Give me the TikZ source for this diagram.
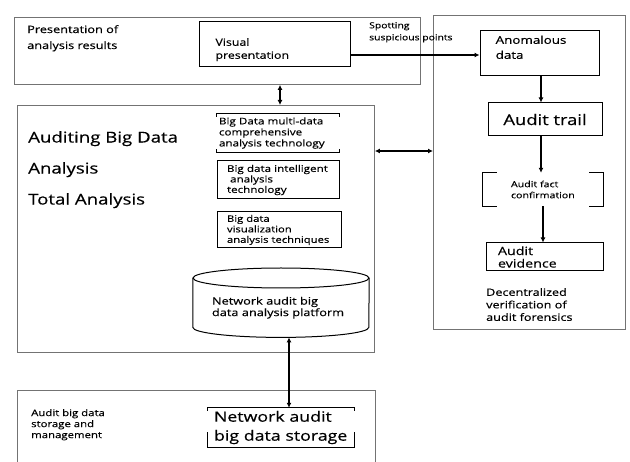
\documentclass[tikz,border=0pt]{standalone}
\usepackage{fontspec}
\setmainfont{Open Sans}[FakeStretch=1.25,FakeBold=0.4]
\usetikzlibrary{arrows.meta,calc}
\newcommand{\fsz}[2]{\fontsize{#1}{#2}\selectfont}
\tikzset{
  panel/.style={draw=black!55, line width=0.9pt, inner sep=0, anchor=north west},
  box/.style={draw, line width=1pt, inner sep=0, align=left},
  plainbox/.style={inner sep=0, align=left},
  txt/.style={inner sep=0, align=left, anchor=north west},
  arr/.style={line width=1.3pt, -{Latex[length=5pt,width=5pt]}},
  darr/.style={line width=1.3pt, {Latex[length=5pt,width=5pt]}-{Latex[length=5pt,width=5pt]}},
  bline/.style={line width=1pt}
}
\begin{document}
\begin{tikzpicture}[x=1pt,y=-1pt]
\useasboundingbox (0,0) rectangle (630,462);
% panels
\node[panel, minimum width=406, minimum height=67] (toppanel) at (14,17) {};
\node[panel, minimum width=192, minimum height=314] (rightpanel) at (433,15) {};
\node[panel, minimum width=357, minimum height=247] (midpanel) at (17,105) {};
\node[panel, minimum width=358, minimum height=90] (botpanel) at (17,390) {};
% top panel content
\node[txt, font=\fsz{10.2}{16}] (ptitle) at (27,25) {Presentation of\\analysis results};
\node[box, minimum width=151, minimum height=45, text width=118, font=\fsz{9.9}{13}, text depth=5pt] (vis) at (274.5,44.5) {Visual\\presentation};
\node[txt, font=\fsz{8.3}{12}] (spot) at (369,22) {Spotting\\suspicious points};
% right panel content
\node[box, minimum width=119, minimum height=45] (anom) at (539.5,53.5) {};
\node[txt, font=\fsz{10.7}{15}] (anomtxt) at ($(anom.north west)+(16,5)$) {Anomalous\\data};
\node[box, minimum width=114, minimum height=33, align=center, font=\fsz{14.7}{17}] (trail) at (545,119.5) {Audit trail};
\node[plainbox, minimum width=120, minimum height=33, text width=64, font=\fsz{8.5}{11}] (fact) at (543,189.5) {Audit fact\\confirmation};
\node[box, minimum width=117, minimum height=28, text width=93, font=\fsz{11.4}{12.5}] (evid) at (544.5,257) {Audit\\evidence};
\node[txt, font=\fsz{10.1}{12.5}] (decent) at (486,288) {Decentralized\\verification of\\audit forensics};
% middle panel content
\node[txt, font=\fsz{14.9}{31}] (mtitle) at (28,131) {Auditing Big Data\\Analysis\\Total Analysis};
\node[plainbox, minimum width=122, minimum height=38, text width=118, font=\fsz{9.3}{11}] (b1) at (278,133) {Big Data multi-data\\comprehensive\\analysis technology};
\node[box, minimum width=122, minimum height=38, text width=102, font=\fsz{9.3}{10.5}] (b2) at (278,180) {Big data intelligent\\\ analysis\\technology};
\node[box, minimum width=124, minimum height=36, text width=104, font=\fsz{9}{10.5}] (b3) at (279,230) {Big data\\visualization\\analysis techniques};
\node[plainbox, minimum width=176, minimum height=59, text width=138, font=\fsz{10.2}{11.5}, anchor=north] (cyl) at (281,278) {Network audit big\\data analysis platform};
% bottom panel content
\node[txt, font=\fsz{9.1}{11}] (btitle) at (31,409) {Audit big data\\storage and\\management};
\node[plainbox, minimum width=146, minimum height=39, text width=134, font=\fsz{14.2}{19}] (store) at (281,427.5) {Network audit\\big data storage};
% bracket outlines
\draw[bline] ($(b1.north west)+(0,3)$) -- (b1.north west) -- (b1.north east) -- ($(b1.north east)+(0,3)$);
\draw[bline] ($(b1.south west)+(0,-3)$) -- (b1.south west) -- (b1.south east) -- ($(b1.south east)+(0,-3)$);
\draw[bline] ($(fact.north west)+(14,0)$) -- (fact.north west) -- (fact.south west) -- ++(14,0);
\draw[bline] ($(fact.north east)+(-14,0)$) -- (fact.north east) -- (fact.south east) -- ++(-14,0);
\draw[bline] ($(store.north west)+(0,3)$) -- (store.north west) -- (store.north east) -- ($(store.north east)+(0,3)$);
\draw[bline] ($(store.south west)+(0,-15)$) -- (store.south west) -- (store.south east) -- ($(store.south east)+(0,-15)$);
% cylinder outline
\draw[line width=1pt] (cyl.north) ellipse [x radius=88, y radius=10];
\draw[line width=1pt] (cyl.north west) -- ($(cyl.south west)+(0,-10)$) arc[start angle=180, end angle=0, x radius=88, y radius=10] -- (cyl.north east);
% connectors
\coordinate (ya) at (0,55);
\coordinate (xv) at (280,0);
\coordinate (yh) at (0,151);
\coordinate (xc) at (289,0);
\draw[arr] (vis.east |- ya) -- (anom.west |- ya);
\draw[darr] (toppanel.south -| xv) -- (midpanel.north -| xv);
\draw[darr] (midpanel.east |- yh) -- (rightpanel.west |- yh);
\draw[arr] (anom.south -| trail.north) ++(-4,0) coordinate (a1) -- (a1 |- trail.north);
\draw[arr] ($(trail.south)+(-4,0)$) coordinate (a2) -- (a2 |- fact.north);
\draw[arr] ($(fact.south)+(0,0)$) -- (fact.south |- evid.north);
\draw[darr] (cyl.south -| xc) -- (store.north -| xc);
\end{tikzpicture}
\end{document}
